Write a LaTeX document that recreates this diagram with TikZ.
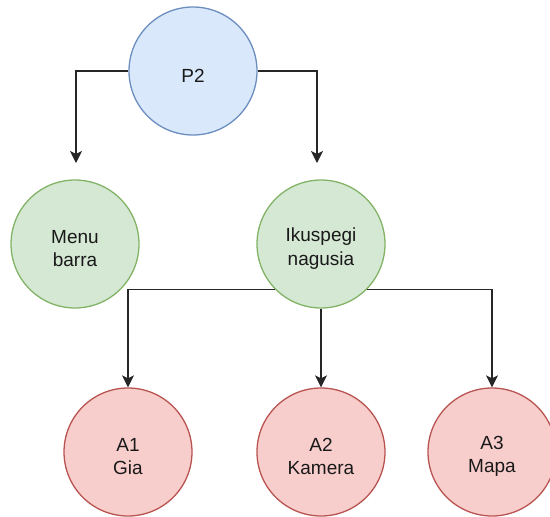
\documentclass[tikz,border=0pt]{standalone}
\usepackage{fontspec}
\setmainfont{Liberation Sans}
\usetikzlibrary{arrows.meta}
\definecolor{bluefill}{HTML}{DAE8FC}
\definecolor{bluestroke}{HTML}{6C8EBF}
\definecolor{greenfill}{HTML}{D5E8D4}
\definecolor{greenstroke}{HTML}{82B366}
\definecolor{redfill}{HTML}{F8CECC}
\definecolor{redstroke}{HTML}{B85450}
\tikzset{
  bub/.style={circle, minimum size=128pt, inner sep=0pt, line width=1.3pt},
  bluebub/.style={bub, draw=bluestroke, fill=bluefill},
  greenbub/.style={bub, draw=greenstroke, fill=greenfill},
  redbub/.style={bub, draw=redstroke, fill=redfill},
  txt/.style={align=center, inner sep=0pt, font=\fontsize{19pt}{23.5pt}\selectfont, text=black!90},
  conn/.style={line width=1.5pt, draw=black!85, -{Stealth[length=12pt, width=12pt, inset=3pt]}}
}
\begin{document}
\begin{tikzpicture}[x=1pt, y=-1pt]
\useasboundingbox (0,0) rectangle (550,517);
\node[bluebub] (p2) at (193,71) {};
\node[greenbub] (mb) at (75,244) {};
\node[greenbub] (ik) at (321,244) {};
\node[redbub] (a1) at (128,452) {};
\node[redbub] (a2) at (321,452) {};
\node[redbub] (a3) at (492,452) {};
\node[txt] (p2t) at ([yshift=-4.5pt]p2.center) {P2};
\node[txt] (mbt) at ([yshift=-4.5pt]mb.center) {Menu\\barra};
\node[txt] (ikt) at ([yshift=-4.5pt]ik.center) {Ikuspegi\\nagusia};
\node[txt] (a1t) at ([yshift=-4.5pt]a1.center) {A1\\Gia};
\node[txt] (a2t) at ([yshift=-4.5pt]a2.center) {A2\\Kamera};
\node[txt] (a3t) at ([yshift=-4.5pt]a3.center) {A3\\Mapa};
\coordinate (c1) at (76,163);
\coordinate (c2) at (317,163);
\draw[conn] (p2.west) -| (c1);
\draw[conn] (p2.east) -| (c2);
\draw[conn] (ik.south west) -| (a1.north);
\draw[conn] (ik.south) -- (a2.north);
\draw[conn] (ik.south east) -| (a3.north);
\end{tikzpicture}
\end{document}
